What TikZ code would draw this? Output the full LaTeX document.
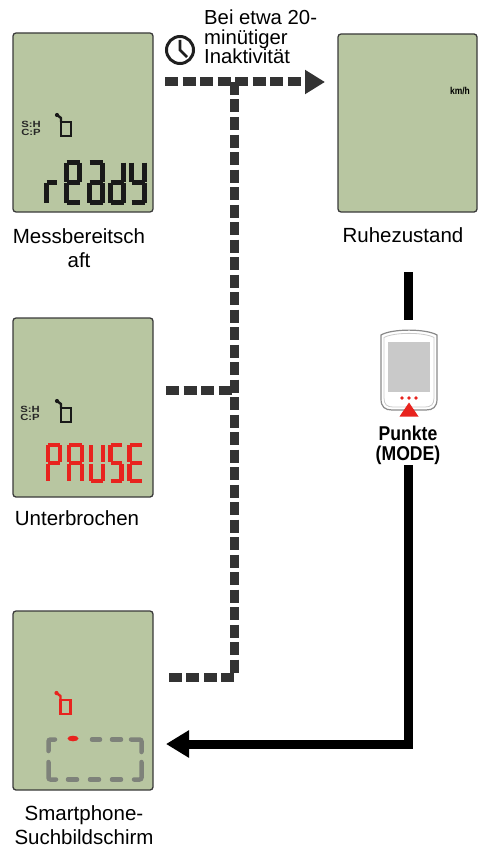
\documentclass[tikz,border=0pt]{standalone}
\usepackage{fontspec}
\setmainfont{Liberation Sans}
\usetikzlibrary{arrows.meta}

\definecolor{lcdbg}{HTML}{B8C6A1}
\definecolor{lcdframe}{HTML}{3A3A3A}
\definecolor{flowgray}{HTML}{333333}
\definecolor{lcdred}{HTML}{E8231E}
\definecolor{bracketgray}{HTML}{7E827A}
\definecolor{devgray}{HTML}{8A8A8A}
\definecolor{devscreen}{HTML}{C9C9C9}

\lineskiplimit=-30pt
\newcommand\lblfont{\fontsize{20.5}{24}\selectfont}
\newcommand\notefont{\fontsize{20.3}{19.3}\selectfont}
\newcommand\keyfont{\fontsize{20}{20}\selectfont\bfseries}
\newcommand\sensorfont{\fontsize{9}{8.5}\selectfont\bfseries}

% seven-segment glyph: x, y (top), width, height, segment list, draw style
\newcommand\lcdglyph[6]{%
  \begin{scope}[shift={(#1,#2)}]
    \def\gw{#3}\def\gh{#4}
    \coordinate (sa1) at (0,0);            \coordinate (sa2) at (\gw,0);
    \coordinate (sb1) at (\gw,0);          \coordinate (sb2) at (\gw,\gh/2-0.8);
    \coordinate (sc1) at (\gw,\gh/2+0.8);  \coordinate (sc2) at (\gw,\gh);
    \coordinate (sd1) at (0,\gh);          \coordinate (sd2) at (\gw,\gh);
    \coordinate (se1) at (0,\gh/2+0.8);    \coordinate (se2) at (0,\gh);
    \coordinate (sf1) at (0,0);            \coordinate (sf2) at (0,\gh/2-0.8);
    \coordinate (sg1) at (0,\gh/2);        \coordinate (sg2) at (\gw,\gh/2);
    \foreach \s in {#5} {\draw[#6] (s\s1) -- (s\s2);}
  \end{scope}}

% small handset symbol: x, y of the antenna, colour
\newcommand\handset[3]{%
  \begin{scope}[shift={(#1,#2)}]
    \fill[#3] (0,0) circle (2.1);
    \draw[#3, line width=2.4pt, line join=round] (0,0) -- (4,3) -- (4,7);
    \draw[#3, line width=2.4pt] (4,7) rectangle (14,21);
  \end{scope}}

% sensor indicator block
\newcommand\sensorrows{\scalebox{1.25}[1]{S:H}\\\scalebox{1.25}[1]{C:P}}

\begin{document}
\begin{tikzpicture}[x=1pt, y=-1pt,
  screen/.style={draw=lcdframe, line width=1.3pt, fill=lcdbg, rounded corners=3pt,
    minimum width=140pt, minimum height=179pt, inner sep=0pt},
  lbl/.style={font=\lblfont, align=center, inner sep=0pt},
  segblack/.style={line width=5pt, line cap=butt, black!90},
  segred/.style={line width=4.6pt, line cap=butt, lcdred},
  dashconn/.style={flowgray, line width=9pt, dash pattern=on 13pt off 4.5pt},
  solidconn/.style={black, line width=9pt},
  sensor/.style={font=\sensorfont, align=center, inner sep=0pt, text=black!85},
  bracket/.style={bracketgray, line width=4.5pt, line cap=round, rounded corners=2pt}
]
\useasboundingbox (0,0) rectangle (478,848);

% ---------- the four display states ----------
\node[screen] (ready)  at (83,122.5) {};
\node[screen, minimum width=139pt, minimum height=178pt] (sleep) at (407.5,123) {};
\node[screen] (pause)  at (83,407.5) {};
\node[screen] (search) at (83,700.5) {};

% ready screen content
\node[sensor] (readySensors) at (31,128.5) {\sensorrows};
\handset{57}{115}{black!90}
\lcdglyph{46.5}{162.5}{10.5}{40}{e,g}{segblack}
\lcdglyph{66.5}{162.5}{13}{40}{a,b,f,g,e,d}{segblack}
\lcdglyph{89.5}{162.5}{13}{40}{a,b,g,e,c,d}{segblack}
\lcdglyph{110.5}{162.5}{13}{40}{b,c,g,e,d}{segblack}
\lcdglyph{131.5}{162.5}{13}{40}{f,b,g,c,d}{segblack}

% sleep screen content
\node[font=\fontsize{10}{10}\selectfont\bfseries, inner sep=0pt] (speedUnit) at (460,91) {\scalebox{0.85}[1]{km/h}};

% pause screen content
\node[sensor] (pauseSensors) at (30,413.5) {\sensorrows};
\handset{57}{401}{black!90}
\lcdglyph{48}{445}{12}{36}{a,b,f,g,e}{segred}
\lcdglyph{69}{445}{13}{36}{a,b,c,e,f,g}{segred}
\lcdglyph{91}{445}{12}{36}{b,c,d,e,f}{segred}
\lcdglyph{110.5}{445}{11}{36}{a,f,g,c,d}{segred}
\lcdglyph{129.5}{445}{12}{36}{a,f,g,e,d}{segred}

% search screen content
\handset{56.5}{693}{lcdred}
\draw[bracket] (48.5,751) |- (55,739.5);
\draw[bracket] (131,739.5) -| (141.5,752);
\draw[bracket] (141.5,762) |- (134,779.5);
\draw[bracket] (56,779.5) -| (48.5,762);
\draw[bracket] (92,739.5) -- (100,739.5);
\draw[bracket] (112,739.5) -- (121,739.5);
\draw[bracket] (68,779.5) -- (77,779.5);
\draw[bracket] (90,779.5) -- (99,779.5);
\draw[bracket] (112,779.5) -- (121,779.5);
\fill[lcdred] (73,738.5) ellipse (5.5 and 2.8);

% ---------- captions ----------
\node[lbl, anchor=north] (readyLbl)  at (79,228)  {Messbereitsch\\aft};
\node[lbl, anchor=base]  (sleepLbl)  at (403,242) {Ruhezustand};
\node[lbl, anchor=base]  (pauseLbl)  at (77,525)  {Unterbrochen};
\node[lbl, anchor=north] (searchLbl) at (84,805)  {Smartphone-\\Suchbildschirm};

% ---------- inactivity timeout ----------
\draw[black!88, line width=3pt] (180,50) circle (13.5);
\draw[black!88, line width=2.6pt, line cap=butt] (180,40) -- (180,50) -- (187,57);
\node[font=\notefont, align=left, anchor=north west, inner sep=0pt] (timeoutNote) at (204,10)
  {Bei etwa 20-\\minütiger\\Inaktivität};

\coordinate (idleFrom) at (165,82);
\coordinate (idleTo)   at (325,82);
\coordinate (hub)      at (234,82);
\coordinate (pauseOut) at (166,390);
\coordinate (pauseHub) at (234,390);
\coordinate (searchOut) at (166,677);

\draw[dashconn, -{Triangle[length=20pt, width=23pt]}] (idleFrom) -- (idleTo);
\draw[dashconn] (hub) -- (hub |- searchOut) -- (searchOut);
\draw[dashconn] (pauseOut) -- (pauseHub);

% ---------- wake-up by the MODE key ----------
\draw[devgray, line width=1.2pt, fill=white]
  (381,335) .. controls (392,328.5) and (426,328.5) .. (437,335) -- (437,399)
  .. controls (437,407) and (433,410) .. (426,410) -- (392,410)
  .. controls (385,410) and (381,407) .. (381,399) -- cycle;
\draw[devgray!45, line width=0.8pt]
  (384,337.5) .. controls (394,332) and (424,332) .. (434,337.5) -- (434,398)
  .. controls (434,404.5) and (431,407) .. (425,407) -- (393,407)
  .. controls (387,407) and (384,404.5) .. (384,398) -- cycle;
\fill[devscreen] (388,342) rectangle (430,392);
\fill[lcdred] (402,398) circle (1.8) (409,398) circle (1.8) (416,398) circle (1.8);
\fill[lcdred] (409,402.5) -- (418.5,416.5) -- (399.5,416.5) -- cycle;

\node[font=\keyfont, align=center, inner sep=0pt, anchor=north] (modeKey) at (408,425.5)
  {\scalebox{0.88}[1]{Punkte}\\\scalebox{0.88}[1]{(MODE)}};

\coordinate (wakeFrom)   at (408,272);
\coordinate (wakeToKey)  at (408,320);
\coordinate (wakeResume) at (408,465);
\coordinate (wakeIn)     at (166,744);

\draw[solidconn] (wakeFrom) -- (wakeToKey);
\draw[solidconn, -{Triangle[length=23pt, width=26pt]}] (wakeResume) |- (wakeIn);
\end{tikzpicture}
\end{document}
